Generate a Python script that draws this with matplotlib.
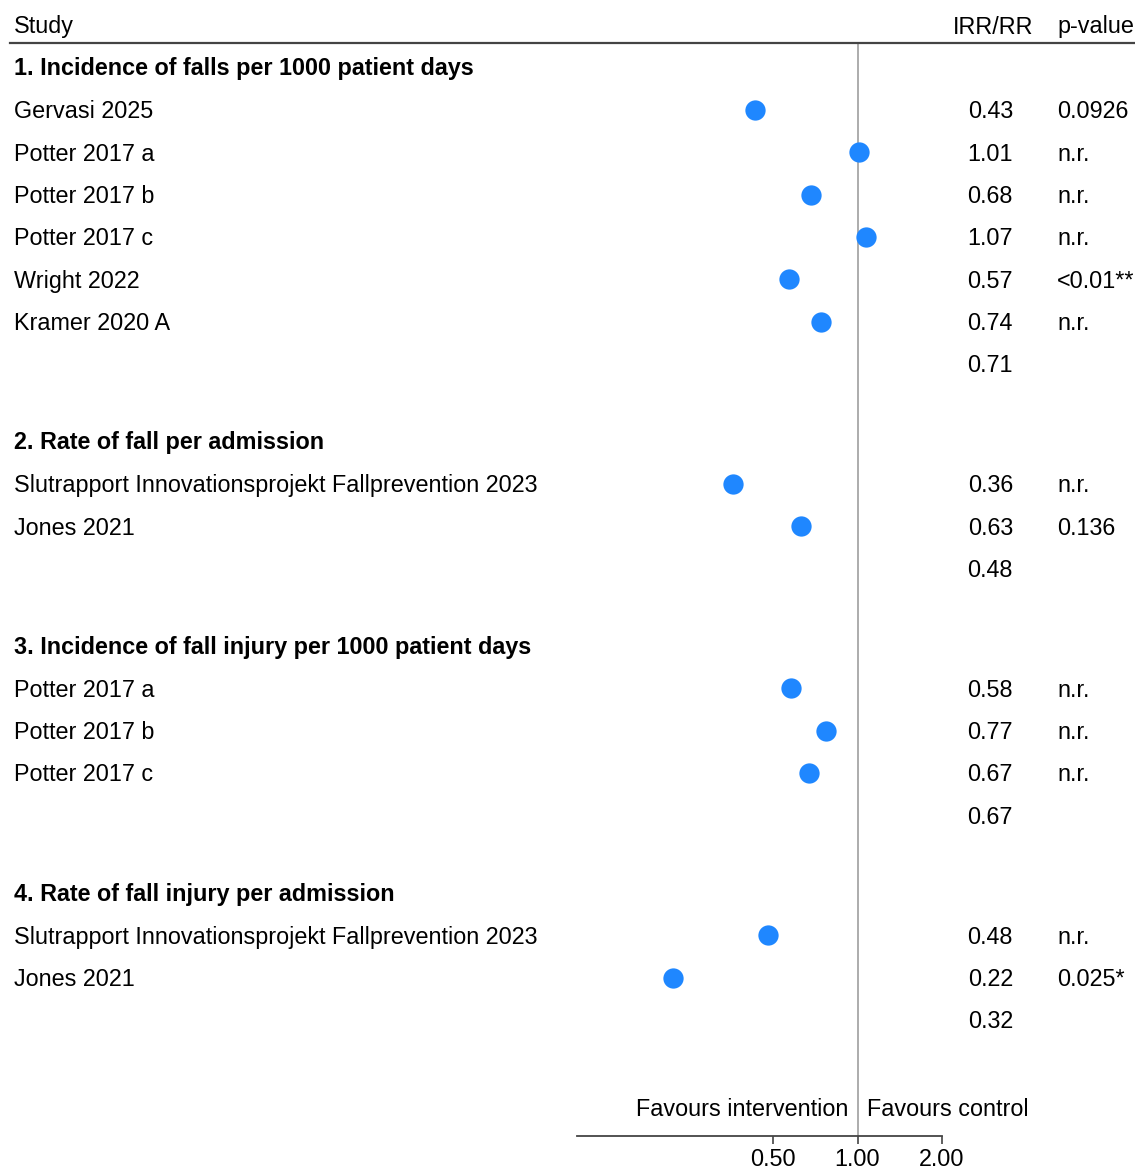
import matplotlib.pyplot as plt
import matplotlib.transforms as mtransforms

plt.rcParams['font.family'] = ['Liberation Sans', 'DejaVu Sans']

# data
group_titles = [
    '1. Incidence of falls per 1000 patient days',
    '2. Rate of fall per admission',
    '3. Incidence of fall injury per 1000 patient days',
    '4. Rate of fall injury per admission',
]
studies_1 = ['Gervasi 2025', 'Potter 2017 a', 'Potter 2017 b', 'Potter 2017 c', 'Wright 2022', 'Kramer 2020 A']
irr_1 = [0.43, 1.01, 0.68, 1.07, 0.57, 0.74]
p_1 = ['0.0926', 'n.r.', 'n.r.', 'n.r.', '<0.01**', 'n.r.']
pooled_1 = 0.71

studies_2 = ['Slutrapport Innovationsprojekt Fallprevention 2023', 'Jones 2021']
irr_2 = [0.36, 0.63]
p_2 = ['n.r.', '0.136']
pooled_2 = 0.48

studies_3 = ['Potter 2017 a', 'Potter 2017 b', 'Potter 2017 c']
irr_3 = [0.58, 0.77, 0.67]
p_3 = ['n.r.', 'n.r.', 'n.r.']
pooled_3 = 0.67

studies_4 = ['Slutrapport Innovationsprojekt Fallprevention 2023', 'Jones 2021']
irr_4 = [0.48, 0.22]
p_4 = ['n.r.', '0.025*']
pooled_4 = 0.32

groups = [
    (studies_1, irr_1, p_1, pooled_1),
    (studies_2, irr_2, p_2, pooled_2),
    (studies_3, irr_3, p_3, pooled_3),
    (studies_4, irr_4, p_4, pooled_4),
]
x_ticks = [0.5, 1.0, 2.0]

W, H = 1135, 1173
fig = plt.figure(figsize=(W / 100, H / 100), dpi=100)

top_px, bot_px = 43, 1136
left_px, right_px = 577, 942
ax = fig.add_axes([left_px / W, 1 - bot_px / H, (right_px - left_px) / W, (bot_px - top_px) / H])
ax.set_xscale('log')
ax.set_xlim(0.1, 2.0)
ax.set_ylim(bot_px, top_px)

# text uses figure x (in pixels/W) and data y (pixel rows)
tr = mtransforms.blended_transform_factory(fig.transFigure, ax.transData)
fs = 16.8
blue = '#1f87ff'
dy = 2  # text sits a little lower than the marker centre

row = 42.3
y = 67
for title, (names, vals, ps, pooled) in zip(group_titles, groups):
    ax.text(14 / W, y + dy, title, transform=tr, fontsize=fs, fontweight='bold',
            ha='left', va='center', clip_on=False)
    y += row + 0.7
    for name, v, p in zip(names, vals, ps):
        ax.plot(v, y, 'o', color=blue, markersize=14.6, markeredgewidth=0, clip_on=False, zorder=3)
        ax.text(14 / W, y + dy, name, transform=tr, fontsize=fs, ha='left', va='center')
        ax.text(1013 / W, y + dy, f'{v:.2f}', transform=tr, fontsize=fs, ha='right', va='center')
        ax.text(1057 / W, y + dy, p, transform=tr, fontsize=fs, ha='left', va='center')
        y += row
    ax.text(1013 / W, y + dy, f'{pooled:.2f}', transform=tr, fontsize=fs, ha='right', va='center')
    y += 77

# header
fig.text(14 / W, 1 - 27 / H, 'Study', fontsize=fs, ha='left', va='center')
fig.text(1033 / W, 1 - 27 / H, 'IRR/RR', fontsize=fs, ha='right', va='center')
fig.text(1057 / W, 1 - 27 / H, 'p-value', fontsize=fs, ha='left', va='center')
fig.add_artist(plt.Line2D([10 / W, 1], [1 - 43 / H, 1 - 43 / H], transform=fig.transFigure,
                          color='#444444', linewidth=1.6))

ax.axvline(1.0, color='#a6a6a6', linewidth=1.3, zorder=1)

ax.text(848 / W, 1107 + dy, 'Favours intervention', transform=tr, fontsize=fs, ha='right', va='center')
ax.text(867 / W, 1107 + dy, 'Favours control', transform=tr, fontsize=fs, ha='left', va='center')

for s in ['top', 'left', 'right']:
    ax.spines[s].set_visible(False)
ax.spines['bottom'].set_color('#444444')
ax.spines['bottom'].set_linewidth(1.3)
ax.set_yticks([])
ax.set_xticks(x_ticks)
ax.set_xticklabels([f'{t:.2f}' for t in x_ticks])
ax.minorticks_off()
ax.tick_params(axis='x', direction='out', length=6, width=1.2, color='#444444',
               labelsize=fs, pad=2.5)
ax.patch.set_alpha(0)

fig.savefig('out.png', dpi=100)
